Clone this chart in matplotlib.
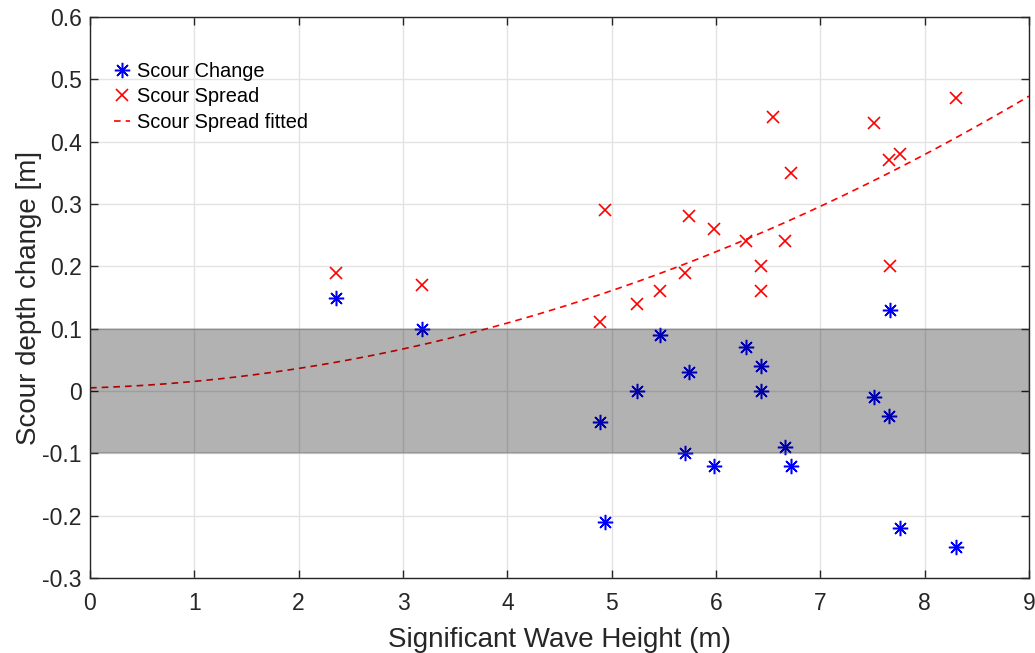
import numpy as np
import matplotlib.pyplot as plt

plt.rcParams['font.family'] = ['Liberation Sans', 'DejaVu Sans']

# wave height for each event
hs_change = [2.36, 3.18, 4.89, 4.94, 5.24, 5.46, 5.70, 5.74, 5.98, 6.29,
             6.43, 6.43, 6.66, 6.72, 7.51, 7.66, 7.67, 7.76, 8.30]
scour_change = [0.15, 0.10, -0.05, -0.21, 0.00, 0.09, -0.10, 0.03, -0.12, 0.07,
                0.04, 0.00, -0.09, -0.12, -0.01, -0.04, 0.13, -0.22, -0.25]

hs_spread = [2.36, 3.18, 4.89, 4.94, 5.24, 5.46, 5.70, 5.74, 5.98, 6.29,
             6.43, 6.43, 6.55, 6.66, 6.72, 7.51, 7.66, 7.67, 7.76, 8.30]
scour_spread = [0.19, 0.17, 0.11, 0.29, 0.14, 0.16, 0.19, 0.28, 0.26, 0.24,
                0.20, 0.16, 0.44, 0.24, 0.35, 0.43, 0.37, 0.20, 0.38, 0.47]

# quadratic fit coefficients (a*x^2 + b*x + c)
fit_coef = [0.0052, 0.0052, 0.005]

band_lo, band_hi = -0.1, 0.1

xfit = np.linspace(0, 9, 200)
yfit = np.polyval(fit_coef, xfit)

fig = plt.figure(figsize=(10.35, 6.53), dpi=100)
ax = fig.add_axes([90/1035, 1 - 578/653, 939/1035, 561/653])

ax.plot(hs_change, scour_change, linestyle='none', marker=(8, 2, 0),
        markersize=11, markeredgewidth=1.1, color='#0000ff', label='Scour Change')
ax.plot(hs_spread, scour_spread, linestyle='none', marker='x',
        markersize=8, markeredgewidth=1.2, color='#ff0000', label='Scour Spread')
ax.plot(xfit, yfit, '--', color='#ff0000', linewidth=1.2, dashes=(4, 3),
        label='Scour Spread fitted')

ax.axhspan(band_lo, band_hi, facecolor='black', alpha=0.3, edgecolor='#555555',
           linewidth=1.2, zorder=5)

ax.set_xlim(0, 9)
ax.set_ylim(-0.3, 0.6)
ax.set_xticks(np.arange(0, 10, 1))
ax.set_yticks(np.round(np.arange(-0.3, 0.61, 0.1), 1))
ax.set_yticklabels(['-0.3', '-0.2', '-0.1', '0', '0.1', '0.2', '0.3', '0.4', '0.5', '0.6'])
ax.grid(True, color='#e3e3e3', linewidth=1)
ax.set_axisbelow(True)
ax.tick_params(direction='in', top=True, right=True, length=6, labelsize=16.5,
               colors='#262626', width=1)
ax.tick_params(axis='x', pad=10)
ax.tick_params(axis='y', pad=6)
for s in ax.spines.values():
    s.set_color('#262626')
    s.set_linewidth(1)

ax.set_xlabel('Significant Wave Height (m)', fontsize=20, color='#262626', labelpad=9)
ax.set_ylabel('Scour depth change [m]', fontsize=20, color='#262626', labelpad=0)

ax.legend(loc='upper left', frameon=False, fontsize=14.4, handlelength=0.8,
          handletextpad=0.35, labelspacing=0.33, borderaxespad=0, borderpad=0,
          bbox_to_anchor=(0.026, 0.92))

fig.savefig('out.png', dpi=100)
